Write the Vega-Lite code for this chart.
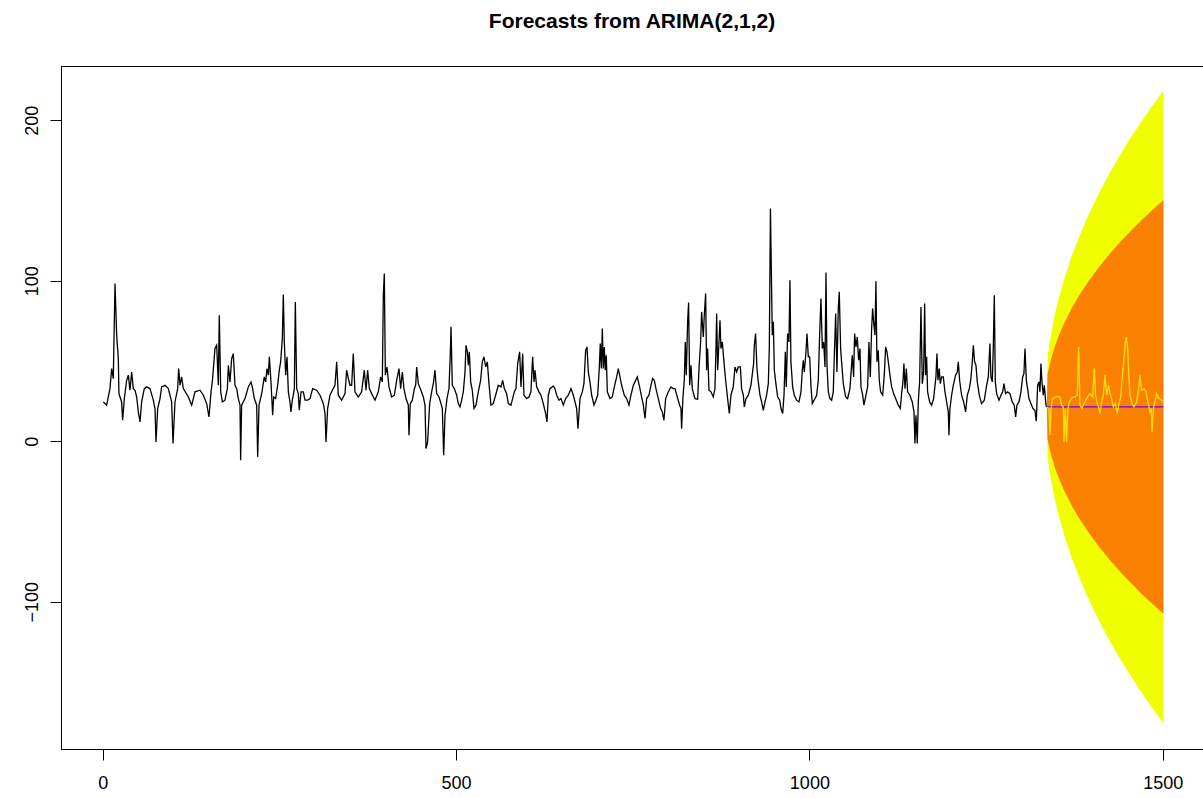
{
  "$schema": "https://vega.github.io/schema/vega-lite/v6.json",
  "autosize": "none",
  "width": 1142,
  "height": 683,
  "padding": {"left": 61, "top": 66, "right": 0, "bottom": 49},
  "background": "white",
  "config": {
    "font": "Liberation Sans",
    "view": {"stroke": "black", "strokeWidth": 1},
    "axis": {"grid": false, "domainColor": "black", "tickColor": "black", "labelColor": "black", "labelFont": "Liberation Sans", "labelFontSize": 18, "tickSize": 11, "domainWidth": 1, "tickWidth": 1, "labelOverlap": false, "labelFlush": false, "title": null}
  },
  "title": {"text": "Forecasts from ARIMA(2,1,2)", "fontSize": 21, "fontWeight": "bold", "font": "Liberation Sans", "color": "black", "anchor": "middle", "offset": 34},
  "datasets": {
    "hist": [
      {"t":1,"v":24.5},{"t":5.6,"v":22.5},{"t":10.3,"v":32.8},{"t":12.7,"v":45.3},{"t":15,"v":39},{"t":17.4,"v":98.3},{"t":19.8,"v":66},{"t":22.1,"v":51.5},{"t":23,"v":29.7},{"t":26.8,"v":24.5},{"t":28.2,"v":13.1},{"t":30.6,"v":26.6},{"t":33.9,"v":38},{"t":36.3,"v":41.2},{"t":38.6,"v":31.8},{"t":41,"v":43.2},{"t":43.3,"v":32.8},{"t":45.7,"v":31.8},{"t":48.1,"v":27.6},{"t":50.4,"v":18.3},{"t":52.8,"v":12.1},{"t":55.1,"v":24.5},{"t":58.9,"v":32.8},{"t":62.2,"v":33.9},{"t":67,"v":32.8},{"t":71.6,"v":25.6},{"t":74,"v":20.4},{"t":75.4,"v":-0.4},{"t":77.8,"v":20.4},{"t":81.1,"v":26.6},{"t":83.4,"v":33.9},{"t":88.2,"v":34.9},{"t":92.9,"v":32.8},{"t":95.2,"v":28.7},{"t":97.6,"v":24.5},{"t":99.5,"v":-1.4},{"t":102.3,"v":24.5},{"t":106.1,"v":32.8},{"t":107.5,"v":45.3},{"t":109.4,"v":34.9},{"t":111.7,"v":40.1},{"t":114.1,"v":32.8},{"t":121.2,"v":27.6},{"t":125.9,"v":22.5},{"t":130.6,"v":30.8},{"t":137.7,"v":31.8},{"t":142.4,"v":28.7},{"t":147.1,"v":23.5},{"t":150.4,"v":15.2},{"t":153.3,"v":30.8},{"t":155.1,"v":37},
      {"t":158.9,"v":57.8},{"t":161.3,"v":59.8},{"t":163.6,"v":34.9},{"t":165,"v":78.5},{"t":167,"v":30.8},{"t":169.3,"v":24.5},{"t":173,"v":25.6},{"t":176.4,"v":32.8},{"t":177.8,"v":47.4},{"t":180.1,"v":37},{"t":182.5,"v":51.5},{"t":184.8,"v":54.6},{"t":187.2,"v":34.9},{"t":189.6,"v":32.8},{"t":191.9,"v":26.6},{"t":194.3,"v":22.5},{"t":195.2,"v":-11.8},{"t":196.6,"v":22.5},{"t":201.4,"v":26.6},{"t":206.1,"v":33.9},{"t":209.8,"v":37},{"t":211.7,"v":33.9},{"t":214.6,"v":26.6},{"t":217.9,"v":22.5},{"t":219.3,"v":-9.7},{"t":221.2,"v":22.5},{"t":225,"v":29.7},{"t":228.7,"v":40.1},{"t":230.6,"v":37},{"t":232.5,"v":45.3},{"t":234.4,"v":41.2},{"t":235.8,"v":52.6},{"t":237.7,"v":40.1},{"t":239.1,"v":28.7},{"t":240.5,"v":16.2},{"t":241.9,"v":27.6},{"t":244.7,"v":26.6},{"t":247.6,"v":34.9},{"t":249.9,"v":44.3},{"t":251.8,"v":49.5},{"t":254.2,"v":64},{"t":255.6,"v":91.4},{"t":257,"v":61.9},{"t":258.9,"v":41.2},{"t":260.8,"v":52.6},{"t":262.7,"v":30.8},{"t":265,"v":24.5},{"t":266.4,"v":18.3},{"t":268.3,"v":25.6},{"t":269.7,"v":28.7},{"t":271.2,"v":32.8},{"t":272.6,"v":86.8},{"t":274.5,"v":32.8},{"t":276.8,"v":29.7},{"t":278.2,"v":19.3},{"t":280.6,"v":30.8},{"t":283.9,"v":30.8},{"t":286.3,"v":25.6},{"t":290,"v":25.6},{"t":293.3,"v":26.6},{"t":297.1,"v":32.8},{"t":302.8,"v":31.8},{"t":307.5,"v":28.7},{"t":312.2,"v":23.5},{"t":314.6,"v":17.3},{"t":316,"v":-0.4},{"t":318.3,"v":20.4},{"t":321.6,"v":28.7},{"t":325,"v":31.8},
      {"t":328.7,"v":34.9},{"t":331.1,"v":49.5},{"t":333.4,"v":28.7},{"t":338.1,"v":25.6},{"t":342.9,"v":29.7},{"t":345.2,"v":44.3},{"t":347.6,"v":39.1},{"t":349.9,"v":34.9},{"t":352.3,"v":34.9},{"t":354.6,"v":54.6},{"t":357,"v":30.8},{"t":361.7,"v":27.6},{"t":366.4,"v":30.8},{"t":370.2,"v":44.3},{"t":372.6,"v":31.8},{"t":374.9,"v":44.3},{"t":377.3,"v":32.8},{"t":380.6,"v":29.7},{"t":385.3,"v":25.6},{"t":390,"v":30.8},{"t":393.3,"v":40.1},{"t":395.7,"v":37},{"t":397.1,"v":91},{"t":398.5,"v":104.5},{"t":400,"v":41.2},{"t":402.3,"v":46.3},{"t":405.1,"v":33.9},{"t":408.9,"v":27.6},{"t":412.7,"v":28.7},{"t":416,"v":38},{"t":419.3,"v":45.3},{"t":421.6,"v":32.8},{"t":424,"v":43.2},{"t":426.3,"v":32.8},{"t":429.2,"v":26.6},{"t":432.5,"v":22.5},{"t":433.4,"v":3.8},{"t":435.3,"v":23.5},{"t":438.1,"v":25.6},{"t":441,"v":32.8},{"t":442.9,"v":34.9},{"t":444.3,"v":46.3},{"t":446.6,"v":35.9},{"t":450.4,"v":31.8},{"t":453.7,"v":27.6},{"t":456.1,"v":22.5},{"t":457.5,"v":-4.5},{"t":459.8,"v":-0.4},{"t":462.7,"v":23.5},{"t":465.5,"v":30.8},{"t":468.3,"v":37},{"t":470.2,"v":44.3},{"t":472.6,"v":29.7},{"t":475.9,"v":27.6},{"t":478.7,"v":23.5},{"t":480.6,"v":20.4},{"t":482.5,"v":-8.7},{"t":484.4,"v":16.2},{"t":487.2,"v":26.6},{"t":490,"v":32.8},{"t":492,"v":55.7},{"t":492.9,"v":71.3},{"t":494.7,"v":34.9},{"t":497.6,"v":32.8},
      {"t":500.9,"v":28.7},{"t":503.2,"v":23.5},{"t":505.6,"v":21.4},{"t":507.9,"v":25.6},{"t":510.3,"v":30.8},{"t":512.7,"v":43.2},{"t":514.1,"v":59.8},{"t":516,"v":55.7},{"t":517.4,"v":47.4},{"t":518.8,"v":55.7},{"t":520.7,"v":37},{"t":523,"v":31.8},{"t":525.4,"v":20.4},{"t":528.2,"v":22.5},{"t":531.5,"v":30.8},{"t":534.8,"v":38},{"t":537.2,"v":49.5},{"t":539.5,"v":52.6},{"t":541.9,"v":46.3},{"t":544.3,"v":49.5},{"t":546.6,"v":35.9},{"t":549.4,"v":22.5},{"t":552.7,"v":23.5},{"t":556,"v":28.7},{"t":559.8,"v":34.9},{"t":563.6,"v":33.9},{"t":566,"v":38},{"t":568.3,"v":32.8},{"t":571.6,"v":29.7},{"t":574,"v":23.5},{"t":577.7,"v":22.5},{"t":580.1,"v":26.6},{"t":582.5,"v":30.8},{"t":584.8,"v":32.8},{"t":587.2,"v":48.4},{"t":590,"v":55.7},{"t":591.9,"v":33.9},{"t":594.3,"v":54.6},{"t":596.1,"v":28.7},{"t":599.9,"v":26.6},{"t":603.2,"v":27.6},{"t":606,"v":30.8},{"t":608.4,"v":52.6},{"t":610.3,"v":37},{"t":611.7,"v":44.3},{"t":614.1,"v":33.9},{"t":617.4,"v":30.8},{"t":620.2,"v":28.7},{"t":623.5,"v":23.5},{"t":626.8,"v":17.3},{"t":628.7,"v":12.1},{"t":630.6,"v":28.7},{"t":632.9,"v":32.8},{"t":637.7,"v":34.5},{"t":640,"v":32.8},{"t":642.4,"v":28.7},{"t":645.7,"v":25.6},{"t":648.5,"v":26.6},{"t":651.8,"v":22.5},{"t":655.1,"v":26.6},{"t":658.9,"v":28.7},{"t":662.7,"v":32.8},{"t":666,"v":28.7},
      {"t":670.7,"v":20.4},{"t":672.5,"v":7.9},{"t":675.4,"v":26.6},{"t":678.7,"v":30.8},{"t":681,"v":35.9},{"t":683.4,"v":56.7},{"t":685.3,"v":58.8},{"t":687.2,"v":43.2},{"t":689.5,"v":37},{"t":691.9,"v":28.7},{"t":695.2,"v":22.5},{"t":698,"v":25.6},{"t":700.4,"v":28.7},{"t":702.7,"v":45.3},{"t":704.1,"v":60.9},{"t":705.6,"v":45.3},{"t":707,"v":70.2},{"t":708.4,"v":45.3},{"t":709.8,"v":58.8},{"t":711.2,"v":44.3},{"t":712.6,"v":53.6},{"t":714.1,"v":30.8},{"t":717.8,"v":26.6},{"t":721.1,"v":27.6},{"t":724,"v":33.9},{"t":727.3,"v":40.1},{"t":729.6,"v":45.3},{"t":732,"v":40.1},{"t":734.3,"v":34.9},{"t":738.1,"v":28.7},{"t":741.4,"v":26.6},{"t":744.7,"v":22.5},{"t":747.5,"v":28.7},{"t":750.9,"v":34.9},{"t":753.2,"v":37},{"t":756.5,"v":40.1},{"t":759.3,"v":34.9},{"t":762.6,"v":27.6},{"t":765,"v":22.5},{"t":767.4,"v":14.2},{"t":769.7,"v":26.6},{"t":773,"v":28.7},{"t":775.8,"v":34.9},{"t":778.2,"v":39.1},{"t":780.6,"v":38},{"t":782.9,"v":32.8},{"t":786.2,"v":26.6},{"t":789.5,"v":20.4},{"t":791.9,"v":18.3},{"t":794.2,"v":13.1},{"t":796.6,"v":26.6},{"t":800.4,"v":30.8},{"t":804.1,"v":33.9},{"t":807.4,"v":32.8},{"t":809.8,"v":32.8},{"t":813.1,"v":27.6},{"t":816.4,"v":22.5},{"t":818.3,"v":20.4},{"t":819.2,"v":7.9},{"t":821.1,"v":27.6},{"t":823,"v":38},{"t":824.4,"v":61.9},{"t":825.8,"v":41.2},{"t":827.7,"v":74.4},{"t":829.1,"v":86.4},{"t":830.6,"v":34.9},{"t":832.5,"v":47.4},{"t":834.3,"v":32.8},
      {"t":838.1,"v":26.6},{"t":841.9,"v":26.2},{"t":843.8,"v":45.3},{"t":846.1,"v":61.9},{"t":847.5,"v":80.6},{"t":849.9,"v":65},{"t":851.3,"v":78.5},{"t":853.2,"v":92},{"t":854.6,"v":44.3},{"t":856,"v":57.8},{"t":857.9,"v":31.8},{"t":860.7,"v":30.8},{"t":864,"v":27.6},{"t":866.4,"v":32.8},{"t":867.8,"v":57.8},{"t":868.8,"v":79.6},{"t":870.2,"v":44.3},{"t":872.1,"v":61.9},{"t":873.5,"v":75.4},{"t":874.9,"v":57.8},{"t":876.8,"v":61.9},{"t":879.1,"v":49.5},{"t":881.5,"v":38},{"t":884.3,"v":26.6},{"t":886.7,"v":17.3},{"t":889,"v":28.7},{"t":892.3,"v":33.9},{"t":894.7,"v":46.3},{"t":897.1,"v":43.2},{"t":899.4,"v":46.3},{"t":902.3,"v":46.3},{"t":904.1,"v":32.8},{"t":906.5,"v":28.7},{"t":907.9,"v":21.4},{"t":910.3,"v":26.6},{"t":913.6,"v":28.7},{"t":917.3,"v":34.9},{"t":921.1,"v":48.4},{"t":922.1,"v":59.8},{"t":923.9,"v":67.1},{"t":925.8,"v":45.3},{"t":927.7,"v":37},{"t":930.1,"v":28.7},{"t":932.4,"v":24.5},{"t":934.8,"v":19.3},{"t":937.2,"v":24.5},{"t":939.5,"v":28.7},{"t":941.9,"v":35.9},{"t":943.3,"v":57.8},{"t":944.9,"v":145},{"t":947.5,"v":66.1},{"t":949,"v":74.4},{"t":950.4,"v":44.3},{"t":952.3,"v":37},{"t":955.1,"v":27.6},{"t":958,"v":25.6},{"t":959.8,"v":20.4},{"t":962.2,"v":17.3},{"t":964.1,"v":28.7},{"t":966,"v":55.7},{"t":967.3,"v":33.9},{"t":969.2,"v":67.1},{"t":971.1,"v":61.9},{"t":972.5,"v":100.3},{"t":973.9,"v":49.5},{"t":976.3,"v":33.9},{"t":978.7,"v":28.7},{"t":982,"v":25.6},{"t":985.3,"v":24.5},{"t":988.1,"v":30.8},{"t":990,"v":44.3},{"t":991.4,"v":50.5},{"t":992.8,"v":43.2},{"t":995.2,"v":55.7},{"t":996.6,"v":67.1},{"t":998.5,"v":52.6},{"t":1000.4,"v":52.6},{"t":1002.3,"v":33.9},{"t":1004.1,"v":23.5},
      {"t":1007.9,"v":26.6},{"t":1010.3,"v":28.7},{"t":1012.6,"v":38},{"t":1014.5,"v":66.1},{"t":1016.4,"v":88.9},{"t":1018.3,"v":57.8},{"t":1020.2,"v":61.9},{"t":1022.1,"v":46.3},{"t":1023.5,"v":105.1},{"t":1024.9,"v":47.4},{"t":1026.8,"v":30.8},{"t":1029.1,"v":26.6},{"t":1031.5,"v":25.6},{"t":1033.8,"v":30.8},{"t":1035.3,"v":53.6},{"t":1037.2,"v":79.6},{"t":1039,"v":43.2},{"t":1040.9,"v":82.7},{"t":1042.3,"v":93.1},{"t":1044.2,"v":57.8},{"t":1045.6,"v":49.5},{"t":1048,"v":35.9},{"t":1051.3,"v":27.6},{"t":1054.1,"v":26.6},{"t":1057.4,"v":32.8},{"t":1060.7,"v":53.6},{"t":1062.6,"v":40.1},{"t":1064,"v":67.1},{"t":1065.9,"v":58.8},{"t":1067.8,"v":65},{"t":1069.7,"v":50.5},{"t":1071.6,"v":57.8},{"t":1073,"v":33.9},{"t":1075.4,"v":28.7},{"t":1077.2,"v":22.5},{"t":1079.6,"v":27.6},{"t":1082.4,"v":33.9},{"t":1084.3,"v":61.9},{"t":1086.2,"v":40.1},{"t":1088.1,"v":70.2},{"t":1089.5,"v":82.7},{"t":1090.9,"v":74.4},{"t":1092.8,"v":66.1},{"t":1094.2,"v":99.7},{"t":1095.6,"v":49.5},{"t":1097.5,"v":56.7},{"t":1098.9,"v":38},{"t":1100.8,"v":30.8},{"t":1103.7,"v":28.7},{"t":1106,"v":41.2},{"t":1107.9,"v":58.8},{"t":1109.8,"v":55.7},{"t":1111.7,"v":49.5},{"t":1114,"v":41.2},{"t":1116.4,"v":33.9},{"t":1119.2,"v":29.7},{"t":1122.1,"v":26.6},{"t":1125.8,"v":22.5},{"t":1128.7,"v":20.4},{"t":1130.5,"v":29.7},{"t":1132.4,"v":37},{"t":1133.8,"v":48.4},{"t":1135.3,"v":32.8},{"t":1137.2,"v":45.3},{"t":1139,"v":30.8},{"t":1142.3,"v":28.7},{"t":1145.6,"v":24.5},{"t":1148,"v":18.3},{"t":1149.4,"v":-1.4},{"t":1150.8,"v":16.2},{"t":1152.7,"v":-1.4},{"t":1154.1,"v":24.5},{"t":1156,"v":37},{"t":1157.9,"v":83.7},{"t":1159.8,"v":35.9},{"t":1161.7,"v":43.2},{"t":1163.1,"v":85.8},{"t":1164.5,"v":41.2},{"t":1165.9,"v":52.6},{"t":1167.3,"v":30.8},{"t":1170.2,"v":24.5},{"t":1173,"v":22.5},{"t":1175.8,"v":26.6},
      {"t":1179.1,"v":40.1},{"t":1180.5,"v":54.6},{"t":1181.9,"v":38},{"t":1183.8,"v":45.3},{"t":1185.2,"v":35.9},{"t":1187.1,"v":40.1},{"t":1189.5,"v":40.1},{"t":1191.9,"v":30.8},{"t":1194.2,"v":24.5},{"t":1196.6,"v":18.3},{"t":1197.5,"v":3.8},{"t":1198.9,"v":20.4},{"t":1201.3,"v":28.7},{"t":1203.6,"v":34.9},{"t":1206.9,"v":41.2},{"t":1209.3,"v":43.2},{"t":1210.7,"v":49.5},{"t":1212.6,"v":38},{"t":1215.4,"v":28.7},{"t":1218.3,"v":24.5},{"t":1221.1,"v":18.3},{"t":1223.5,"v":28.7},{"t":1226.3,"v":32.8},{"t":1228.6,"v":39.1},{"t":1230.5,"v":49.5},{"t":1232,"v":59.8},{"t":1233.8,"v":49.5},{"t":1235.7,"v":47.4},{"t":1237.6,"v":37},{"t":1240.4,"v":28.7},{"t":1243.7,"v":23.5},{"t":1247.5,"v":25.6},{"t":1250.8,"v":34.9},{"t":1253.2,"v":40.1},{"t":1255.5,"v":60.9},{"t":1256.9,"v":40.1},{"t":1258.8,"v":37},{"t":1260.2,"v":57.8},{"t":1261.7,"v":91},{"t":1263.1,"v":37},{"t":1265,"v":29.7},{"t":1268.3,"v":25.6},{"t":1271.1,"v":28.7},{"t":1273.5,"v":30.8},{"t":1275.3,"v":35.9},{"t":1277.7,"v":29.7},{"t":1280.5,"v":30.8},{"t":1283.8,"v":29.7},{"t":1287.1,"v":24.5},{"t":1289.9,"v":22.5},{"t":1291.9,"v":15.2},{"t":1293.7,"v":22.5},{"t":1296.6,"v":24.5},{"t":1299.4,"v":30.8},{"t":1301.8,"v":40.1},{"t":1303.6,"v":42.2},{"t":1305.1,"v":57.8},{"t":1307,"v":38},{"t":1308.4,"v":33.9},{"t":1310.7,"v":26.6},{"t":1313.5,"v":23.5},{"t":1316.4,"v":20.4},{"t":1319.2,"v":19.3},{"t":1321.1,"v":12.5},{"t":1323,"v":34.9},{"t":1324.9,"v":37},{"t":1326.3,"v":30.8},{"t":1327.7,"v":48.4},{"t":1329.1,"v":37},{"t":1331,"v":28.7},{"t":1332.4,"v":34.9},{"t":1334.8,"v":22.5},{"t":1336,"v":21.4}
    ],
    "test": [
      {"t":1336,"v":21.4},{"t":1339,"v":20.4},{"t":1340.5,"v":3.8},{"t":1341.9,"v":20.4},{"t":1344.2,"v":26.6},{"t":1347.5,"v":27.6},{"t":1350.8,"v":28},{"t":1354.6,"v":27.6},{"t":1356.9,"v":22.5},{"t":1359.3,"v":21.4},{"t":1360.3,"v":-0.4},{"t":1362.1,"v":20.4},{"t":1364,"v":-0.4},{"t":1365.9,"v":20.4},{"t":1367.8,"v":24.5},{"t":1371.1,"v":27},{"t":1375.8,"v":27.6},{"t":1379.1,"v":28.7},{"t":1381,"v":58.8},{"t":1382.9,"v":22.5},{"t":1385.7,"v":20.4},{"t":1388.6,"v":23.5},{"t":1392.3,"v":26.6},{"t":1397,"v":29.7},{"t":1400.8,"v":27.6},{"t":1403.2,"v":45.3},{"t":1405,"v":28.7},{"t":1407.4,"v":23.5},{"t":1409.8,"v":20.4},{"t":1411.2,"v":17.3},{"t":1413.6,"v":24.5},{"t":1415.9,"v":28.7},{"t":1418.3,"v":41.2},{"t":1420.6,"v":28.7},{"t":1423.5,"v":34.9},{"t":1425.4,"v":29.7},{"t":1427.7,"v":26.6},{"t":1430.1,"v":21.4},{"t":1432.9,"v":23.5},{"t":1435.7,"v":17.3},{"t":1438.1,"v":23.5},{"t":1440.5,"v":27.6},{"t":1442.8,"v":40.1},{"t":1445.2,"v":51.5},{"t":1447.1,"v":61.9},{"t":1448.5,"v":65},{"t":1450.4,"v":57.8},{"t":1451.8,"v":43.2},{"t":1453.7,"v":28.7},{"t":1456.5,"v":23.5},{"t":1459.3,"v":21.4},{"t":1463.1,"v":24.5},{"t":1466,"v":32.8},{"t":1467.8,"v":41.2},{"t":1470.2,"v":31.8},{"t":1473.5,"v":32.8},{"t":1476.3,"v":30.8},{"t":1479.1,"v":24.5},{"t":1482,"v":18.3},{"t":1483.8,"v":20.4},{"t":1484.8,"v":5.8},{"t":1486.7,"v":20.4},{"t":1489,"v":24.5},{"t":1491.4,"v":29.7},{"t":1494.2,"v":26.6},{"t":1497,"v":26.2},{"t":1501,"v":24.5}
    ],
    "mean": [{"t":1336,"v":21.4},{"t":1501,"v":21.4}],
    "bands": [
      {"t":1336,"lo95":21.4,"lo80":21.4,"hi80":21.4,"hi95":21.4},
      {"t":1337,"lo95":-9.0,"lo80":1.5,"hi80":41.3,"hi95":51.8},
      {"t":1338,"lo95":-12.6,"lo80":-0.8,"hi80":43.6,"hi95":55.4},
      {"t":1340,"lo95":-18.8,"lo80":-4.9,"hi80":47.7,"hi95":61.6},
      {"t":1343,"lo95":-26.7,"lo80":-10.0,"hi80":52.8,"hi95":69.5},
      {"t":1348,"lo95":-37.5,"lo80":-17.1,"hi80":59.9,"hi95":80.3},
      {"t":1353,"lo95":-46.6,"lo80":-23.1,"hi80":65.9,"hi95":89.4},
      {"t":1361,"lo95":-59.0,"lo80":-31.2,"hi80":74.0,"hi95":101.8},
      {"t":1371,"lo95":-72.3,"lo80":-39.9,"hi80":82.7,"hi95":115.1},
      {"t":1381,"lo95":-83.9,"lo80":-47.5,"hi80":90.3,"hi95":126.7},
      {"t":1396,"lo95":-99.2,"lo80":-57.5,"hi80":100.3,"hi95":142.0},
      {"t":1411,"lo95":-112.8,"lo80":-66.4,"hi80":109.2,"hi95":155.6},
      {"t":1426,"lo95":-125.2,"lo80":-74.5,"hi80":117.3,"hi95":168.0},
      {"t":1441,"lo95":-136.6,"lo80":-81.9,"hi80":124.7,"hi95":179.4},
      {"t":1456,"lo95":-147.2,"lo80":-88.8,"hi80":131.6,"hi95":190.0},
      {"t":1471,"lo95":-157.2,"lo80":-95.4,"hi80":138.2,"hi95":200.0},
      {"t":1486,"lo95":-166.6,"lo80":-101.6,"hi80":144.4,"hi95":209.4},
      {"t":1501,"lo95":-175.6,"lo80":-107.4,"hi80":150.2,"hi95":218.4}
    ]
  },
  "layer": [
    {
      "data": {"name": "bands"},
      "mark": {"type": "area", "color": "#F0FF00", "opacity": 1},
      "encoding": {
        "x": {"field": "t", "type": "quantitative", "scale": {"domain": [-59, 1557], "nice": false, "zero": false}, "axis": {"values": [0, 500, 1000, 1500], "format": "d", "labelPadding": 14}},
        "y": {"field": "lo95", "type": "quantitative", "scale": {"domain": [-191.7, 233.8], "nice": false, "zero": false}, "axis": {"values": [-100, 0, 100, 200], "format": "d", "labelAngle": -90, "labelAlign": "center", "labelBaseline": "alphabetic", "labelPadding": 13}},
        "y2": {"field": "hi95"}
      }
    },
    {
      "data": {"name": "bands"},
      "mark": {"type": "area", "color": "#F98000", "opacity": 1},
      "encoding": {
        "x": {"field": "t", "type": "quantitative"},
        "y": {"field": "lo80", "type": "quantitative"},
        "y2": {"field": "hi80"}
      }
    },
    {
      "data": {"name": "hist"},
      "mark": {"type": "line", "color": "black", "strokeWidth": 1.3},
      "encoding": {
        "x": {"field": "t", "type": "quantitative"},
        "y": {"field": "v", "type": "quantitative"}
      }
    },
    {
      "data": {"name": "mean"},
      "mark": {"type": "line", "color": "#6A00FF", "strokeWidth": 1.2},
      "encoding": {
        "x": {"field": "t", "type": "quantitative"},
        "y": {"field": "v", "type": "quantitative"}
      }
    },
    {
      "data": {"name": "test"},
      "mark": {"type": "line", "color": "#FFE000", "strokeWidth": 1.3},
      "encoding": {
        "x": {"field": "t", "type": "quantitative"},
        "y": {"field": "v", "type": "quantitative"}
      }
    }
  ]
}
